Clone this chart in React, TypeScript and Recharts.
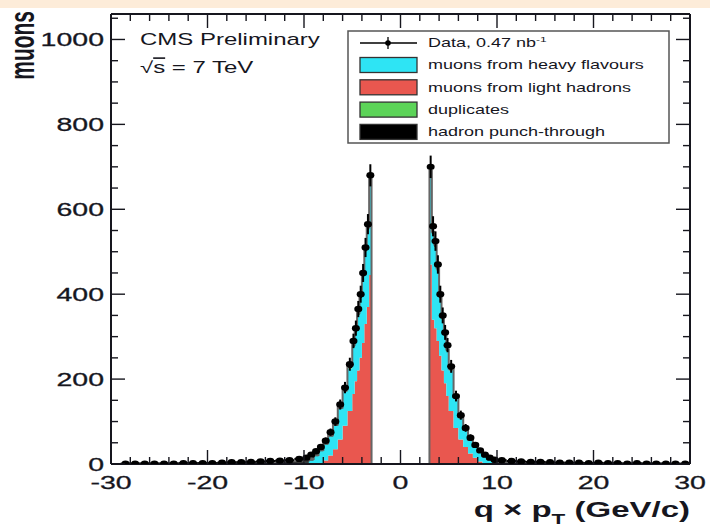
import React from "react";
import { ComposedChart, Area, Scatter, ErrorBar, XAxis, YAxis } from "recharts";

// |q x pT| bin edges (GeV/c), same binning on both charge sides
const binEdges = [3, 3.25, 3.5, 3.75, 4, 4.25, 4.5, 4.75, 5, 5.5, 6, 6.5, 7, 7.5, 8, 8.5, 9, 9.5, 10, 11, 12, 13, 14, 15, 16, 17, 18, 19, 20, 21, 22, 23, 24, 25, 26, 27, 28, 29, 30];

// positive charge, bins listed from |q pT| = 3 outwards
const dataPos = [700, 560, 525, 470, 400, 350, 310, 280, 230, 160, 115, 85, 62, 45, 32, 22, 15, 10, 9, 7, 6, 5, 5, 4, 3, 3, 3, 2, 3, 2, 2, 1, 2, 1, 1, 1, 1, 1];
const lightPos = [470, 340, 320, 290, 255, 220, 190, 160, 125, 85, 58, 40, 25, 15, 6, 2, 1, 0, 0, 0, 0, 0, 0, 0, 0, 0, 0, 0, 0, 0, 0, 0, 0, 0, 0, 0, 0, 0];
const heavyPos = [212, 200, 190, 165, 135, 120, 110, 105, 95, 68, 50, 38, 30, 24, 20, 14, 8, 3, 0, 0, 0, 0, 0, 0, 0, 0, 0, 0, 0, 0, 0, 0, 0, 0, 0, 0, 0, 0];
const dupPos = [2, 2, 2, 1, 1, 1, 1, 1, 1, 1, 0, 0, 0, 0, 0, 0, 0, 0, 0, 0, 0, 0, 0, 0, 0, 0, 0, 0, 0, 0, 0, 0, 0, 0, 0, 0, 0, 0];
const punchPos = [6, 5, 5, 5, 4, 4, 4, 4, 4, 4, 3, 3, 3, 3, 3, 3, 3, 4, 5, 5, 5, 4, 4, 3, 3, 2, 2, 2, 1, 1, 1, 1, 1, 1, 1, 0, 0, 0];

// negative charge, bins listed from |q pT| = 3 outwards
const dataNeg = [680, 565, 510, 450, 400, 365, 320, 290, 235, 180, 140, 100, 75, 55, 40, 30, 22, 15, 12, 9, 8, 7, 6, 5, 4, 4, 3, 2, 2, 2, 2, 1, 1, 1, 1, 1, 1, 0];
const lightNeg = [445, 370, 330, 285, 250, 220, 195, 165, 125, 90, 58, 35, 20, 8, 2, 0, 0, 0, 0, 0, 0, 0, 0, 0, 0, 0, 0, 0, 0, 0, 0, 0, 0, 0, 0, 0, 0, 0];
const heavyNeg = [222, 180, 170, 155, 140, 130, 115, 110, 100, 80, 72, 55, 45, 38, 28, 18, 8, 3, 0, 0, 0, 0, 0, 0, 0, 0, 0, 0, 0, 0, 0, 0, 0, 0, 0, 0, 0, 0];
const dupNeg = [2, 2, 1, 1, 1, 1, 1, 1, 1, 1, 0, 0, 0, 0, 0, 0, 0, 0, 0, 0, 0, 0, 0, 0, 0, 0, 0, 0, 0, 0, 0, 0, 0, 0, 0, 0, 0, 0];
const punchNeg = [6, 5, 5, 5, 5, 5, 5, 5, 5, 5, 3, 3, 3, 3, 3, 3, 4, 5, 6, 6, 6, 5, 5, 4, 4, 3, 2, 2, 2, 2, 1, 1, 1, 1, 1, 1, 0, 0];

const xMajor = [-30, -20, -10, 0, 10, 20, 30];
const yMajor = [0, 200, 400, 600, 800, 1000];
const xTicks = Array.from({ length: 31 }, (_, i) => -30 + 2 * i);
const yTicks = Array.from({ length: 22 }, (_, i) => 50 * i);

const legendItems = [
  { label: "muons from heavy flavours", color: "#2ee4f4" },
  { label: "muons from light hadrons", color: "#e9574f" },
  { label: "duplicates", color: "#5cd458" },
  { label: "hadron punch-through", color: "#000000" },
];

const FONT = "'Liberation Sans', Arial, Helvetica, sans-serif";
const INK = "#16161e";
const SX = 1.5; // the reference is stretched horizontally

const nBins = binEdges.length - 1;

// step rows: each row holds a bin's content from its left edge
const rows: any[] = [];
for (let i = nBins - 1; i >= 0; i--) {
  rows.push({ x: -binEdges[i + 1], light: lightNeg[i], heavy: heavyNeg[i], dup: dupNeg[i], punch: punchNeg[i] });
}
rows.push({ x: -binEdges[0], light: 0, heavy: 0, dup: 0, punch: 0 });
for (let i = 0; i < nBins; i++) {
  rows.push({ x: binEdges[i], light: lightPos[i], heavy: heavyPos[i], dup: dupPos[i], punch: punchPos[i] });
}
rows.push({ x: binEdges[nBins], light: 0, heavy: 0, dup: 0, punch: 0 });

const points: any[] = [];
for (let i = 0; i < nBins; i++) {
  const c = (binEdges[i] + binEdges[i + 1]) / 2;
  const hw = (binEdges[i + 1] - binEdges[i]) / 2;
  if (dataNeg[i] > 0) points.push({ x: -c, n: dataNeg[i], ey: Math.sqrt(dataNeg[i]), ex: hw });
  if (dataPos[i] > 0) points.push({ x: c, n: dataPos[i], ey: Math.sqrt(dataPos[i]), ex: hw });
}

function BottomTick({ x, y, payload }: any) {
  const major = xMajor.includes(payload.value);
  return (
    <g>
      <line x1={x} x2={x} y1={y} y2={y - (major ? 14 : 7)} stroke={INK} strokeWidth={1.4} />
      {major && (
        <text transform={`translate(${x},${y + 25}) scale(${SX},1)`} textAnchor="middle" fontSize={19} fontFamily={FONT} fill={INK} stroke={INK} strokeWidth={0.3}>
          {payload.value}
        </text>
      )}
    </g>
  );
}

function TopTick({ x, y, payload }: any) {
  const major = xMajor.includes(payload.value);
  return <line x1={x} x2={x} y1={y} y2={y + (major ? 14 : 7)} stroke={INK} strokeWidth={1.4} />;
}

function LeftTick({ x, y, payload }: any) {
  const major = yMajor.includes(payload.value);
  return (
    <g>
      <line x1={x} x2={x + (major ? 14 : 7)} y1={y} y2={y} stroke={INK} strokeWidth={1.4} />
      {major && (
        <text transform={`translate(${x - 7},${y + 7}) scale(${SX},1)`} textAnchor="end" fontSize={19} fontFamily={FONT} fill={INK} stroke={INK} strokeWidth={0.3}>
          {payload.value}
        </text>
      )}
    </g>
  );
}

function RightTick({ x, y, payload }: any) {
  const major = yMajor.includes(payload.value);
  return <line x1={x} x2={x - (major ? 14 : 7)} y1={y} y2={y} stroke={INK} strokeWidth={1.4} />;
}

function DataDot({ cx, cy }: any) {
  return <ellipse cx={cx} cy={cy} rx={4} ry={3.2} fill="#000" />;
}

export default function App() {
  const frame = { stroke: INK, strokeWidth: 2 };
  return (
    <div style={{ position: "absolute", left: 0, top: 0, width: 710, height: 530, background: "#fff", overflow: "hidden" }}>
      <div style={{ position: "absolute", left: 0, top: 0, width: 710, height: 8, background: "#fdecd9" }} />
      <ComposedChart width={710} height={530} data={rows} margin={{ top: 13, right: 19, left: 51, bottom: 26 }}>
        <XAxis dataKey="x" type="number" domain={[-30, 30]} ticks={xTicks} interval={0} allowDataOverflow
          height={40} tickSize={0} tickMargin={0} tickLine={false} axisLine={frame} tick={<BottomTick />} />
        <XAxis xAxisId="top" orientation="top" dataKey="x" type="number" domain={[-30, 30]} ticks={xTicks} interval={0}
          allowDataOverflow height={1} tickSize={0} tickMargin={0} tickLine={false} axisLine={frame} tick={<TopTick />} />
        <YAxis type="number" domain={[0, 1060]} ticks={yTicks} interval={0} allowDataOverflow width={60}
          tickSize={0} tickMargin={0} tickLine={false} axisLine={frame} tick={<LeftTick />} />
        <YAxis yAxisId="right" orientation="right" type="number" domain={[0, 1060]} ticks={yTicks} interval={0}
          allowDataOverflow width={1} tickSize={0} tickMargin={0} tickLine={false} axisLine={frame} tick={<RightTick />} />
        <Area type="stepAfter" dataKey="light" stackId="mc" fill="#e9574f" fillOpacity={1} stroke="none" isAnimationActive={false} dot={false} activeDot={false} />
        <Area type="stepAfter" dataKey="heavy" stackId="mc" fill="#2ee4f4" fillOpacity={1} stroke="none" isAnimationActive={false} dot={false} activeDot={false} />
        <Area type="stepAfter" dataKey="dup" stackId="mc" fill="#5cd458" fillOpacity={1} stroke="none" isAnimationActive={false} dot={false} activeDot={false} />
        <Area type="stepAfter" dataKey="punch" stackId="mc" fill="#000" fillOpacity={1} stroke="#666" strokeWidth={2} isAnimationActive={false} dot={false} activeDot={false} />
        <Scatter data={points} dataKey="n" shape={<DataDot />} isAnimationActive={false}>
          <ErrorBar dataKey="ey" direction="y" width={0} stroke="#000" strokeWidth={2} />
          <ErrorBar dataKey="ex" direction="x" width={0} stroke="#000" strokeWidth={2} />
        </Scatter>
      </ComposedChart>

      <svg width={710} height={530} style={{ position: "absolute", left: 0, top: 0, pointerEvents: "none" }} fontFamily={FONT}>
        <text transform={`translate(34,11) scale(1.65,1) rotate(-90)`} textAnchor="end" fontSize={21} fontWeight="bold" fill={INK}>muons</text>
        <text transform={`translate(690,517) scale(${SX},1)`} textAnchor="end" fontSize={22} fontWeight="bold" fill={INK}>
          q × p<tspan fontSize={15} dy={7}>T</tspan><tspan dy={-7}> (GeV/c)</tspan>
        </text>
        <text transform={`translate(140,45) scale(${SX},1)`} fontSize={16} fill={INK}>CMS Preliminary</text>
        <text transform={`translate(140,73) scale(${SX},1)`} fontSize={16} fill={INK}>√<tspan textDecoration="overline">s</tspan> = 7 TeV</text>

        <rect x={348} y={31} width={321} height={112} fill="#fff" stroke="#555" strokeWidth={1.5} />
        <line x1={360} x2={417} y1={43} y2={43} stroke="#000" strokeWidth={1.3} />
        <line x1={388} x2={388} y1={37} y2={49} stroke="#000" strokeWidth={1.3} />
        <circle cx={388} cy={43} r={2.8} fill="#000" />
        <text transform={`translate(428,47.3) scale(${SX},1)`} fontSize={12} fill={INK}>
          Data, 0.47 nb<tspan fontSize={8} dy={-5}>-1</tspan>
        </text>
        {legendItems.map((it, i) => {
          const cy = 65 + i * 22.3;
          return (
            <g key={it.label}>
              <rect x={360} y={cy - 7.5} width={57} height={15} fill={it.color} stroke="#333" strokeWidth={1.3} />
              <text transform={`translate(428,${cy + 4.3}) scale(${SX},1)`} fontSize={12} fill={INK}>{it.label}</text>
            </g>
          );
        })}
      </svg>
    </div>
  );
}
